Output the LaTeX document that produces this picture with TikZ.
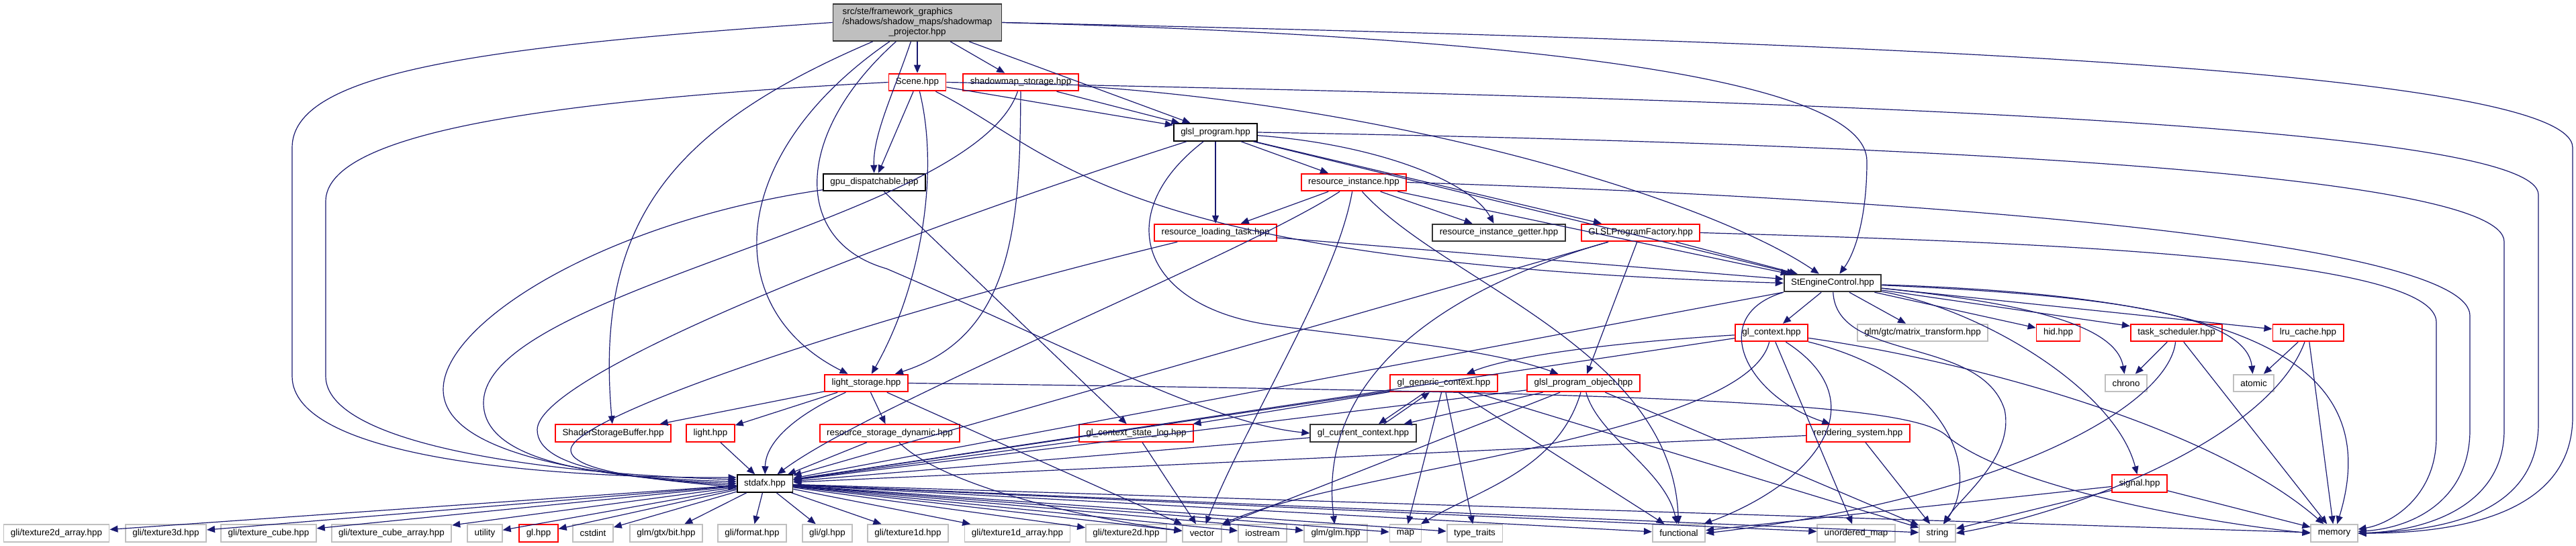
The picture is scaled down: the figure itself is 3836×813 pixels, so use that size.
\documentclass[tikz,border=0pt]{standalone}
\usepackage{fontspec}
\setmainfont{Liberation Sans}
\usepackage{xcolor}
\usepackage{tikz}
\usetikzlibrary{arrows.meta}

\definecolor{edgeblue}{HTML}{191970}
\definecolor{rootgray}{HTML}{BFBFBF}
\definecolor{sysgray}{HTML}{BFBFBF}
\definecolor{truncred}{HTML}{FF0000}

\begin{document}
\begin{tikzpicture}[
        x=0.5pt, y=-0.5pt,
        >={Triangle[length=6pt,width=5pt]},
        every node/.style={font=\fontsize{6.7pt}{7.5pt}\selectfont},
        docbox/.style={
            draw=black,
            fill=white,
            line width=0.9pt,
            minimum height=12.85pt,
            inner xsep=5.25pt,
            inner ysep=0pt
        },
        redbox/.style={docbox, draw=truncred},
        sysbox/.style={docbox, draw=sysgray},
        dep/.style={->, draw=edgeblue, line width=0.6pt}
    ]

    \useasboundingbox (0,0) rectangle (3836,813);

    \node[docbox, fill=rootgray, draw=black!80, minimum width=125.5pt, minimum height=27.5pt] (root) at (1366,33.5) {
        \begin{tabular}{@{}l@{}}
            src/ste/framework\_graphics\\
            /shadows/shadow\_maps/shadowmap\\
            \multicolumn{1}{@{}c@{}}{\_projector.hpp}
        \end{tabular}
    };

    \node[redbox] (scene) at (1366,122.5) {Scene.hpp};
    \node[redbox] (smstorage) at (1520,122.5) {shadowmap\_storage.hpp};
    \node[docbox] (glslprog) at (1810,197) {glsl\_program.hpp};
    \node[docbox] (gpudisp) at (1302,271.5) {gpu\_dispatchable.hpp};
    \node[redbox] (resinst) at (2016,271.5) {resource\_instance.hpp};
    \node[redbox] (loadtask) at (1810,346.5) {resource\_loading\_task.hpp};
    \node[docbox, draw=black!80] (getter) at (2232,346.5) {resource\_instance\_getter.hpp};
    \node[redbox] (factory) at (2443,346.5) {GLSLProgramFactory.hpp};
    \node[docbox, draw=black!80] (engine) at (2729,421.5) {StEngineControl.hpp};
    \node[redbox] (glctx) at (2638,495.5) {gl\_context.hpp};
    \node[sysbox] (matrix) at (2863,495.5) {glm/gtc/matrix\_transform.hpp};
    \node[redbox] (hid) at (3065,495.5) {hid.hpp};
    \node[redbox] (tasksched) at (3241,495.5) {task\_scheduler.hpp};
    \node[redbox] (lru) at (3437,495.5) {lru\_cache.hpp};
    \node[redbox] (lightstor) at (1290,570.5) {light\_storage.hpp};
    \node[redbox] (genctx) at (2150,570.5) {gl\_generic\_context.hpp};
    \node[redbox] (progobj) at (2358,570.5) {glsl\_program\_object.hpp};
    \node[sysbox] (chrono) at (3166,570.5) {chrono};
    \node[sysbox] (atomic) at (3356,570.5) {atomic};
    \node[redbox] (ssbo) at (913,645) {ShaderStorageBuffer.hpp};
    \node[redbox] (light) at (1058,645) {light.hpp};
    \node[redbox] (resdyn) at (1325,645) {resource\_storage\_dynamic.hpp};
    \node[redbox] (statelog) at (1692,645) {gl\_context\_state\_log.hpp};
    \node[docbox, draw=black!80] (curctx) at (2030,645) {gl\_current\_context.hpp};
    \node[redbox] (rendering) at (2767,645) {rendering\_system.hpp};
    \node[docbox] (stdafx) at (1139,720) {stdafx.hpp};
    \node[redbox] (signal) at (3186,720) {signal.hpp};

    \node[sysbox] (tex2darr) at (84,794) {gli/texture2d\_array.hpp};
    \node[sysbox] (tex3d) at (247,794) {gli/texture3d.hpp};
    \node[sysbox] (texcube) at (400,794) {gli/texture\_cube.hpp};
    \node[sysbox] (texcubearr) at (583,794) {gli/texture\_cube\_array.hpp};
    \node[sysbox] (utility) at (722,794) {utility};
    \node[redbox] (glhpp) at (802,794) {gl.hpp};
    \node[sysbox] (cstdint) at (883,794) {cstdint};
    \node[sysbox] (gtxbit) at (992,794) {glm/gtx/bit.hpp};
    \node[sysbox] (format) at (1120,794) {gli/format.hpp};
    \node[sysbox] (gligl) at (1232,794) {gli/gl.hpp};
    \node[sysbox] (tex1d) at (1352,794) {gli/texture1d.hpp};
    \node[sysbox] (tex1darr) at (1515,794) {gli/texture1d\_array.hpp};
    \node[sysbox] (tex2d) at (1677,794) {gli/texture2d.hpp};
    \node[sysbox] (vector) at (1790,794) {vector};
    \node[sysbox] (iostream) at (1880,794) {iostream};
    \node[sysbox] (glmglm) at (1989,794) {glm/glm.hpp};
    \node[sysbox] (map) at (2093,794) {map};
    \node[sysbox] (typetraits) at (2196,794) {type\_traits};
    \node[sysbox] (functional) at (2500,794) {functional};
    \node[sysbox] (unordmap) at (2764,794) {unordered\_map};
    \node[sysbox] (string) at (2885,794) {string};
    \node[sysbox] (memory) at (3476,794) {memory};

    \draw[dep] (root) -- (scene);
    \draw[dep] (root) -- (smstorage);
    \draw[dep] (root) -- (glslprog);
    \draw[dep] (root) .. controls (1330,140) and (1300,200) .. (gpudisp);
    \draw[dep] (root) .. controls (1000,190) and (885,330) .. (ssbo);
    \draw[dep] (root) .. controls (1080,230) and (1070,460) .. (lightstor);
    \draw[dep] (root) .. controls (1180,200) and (1180,360) .. (1320,400) .. controls (1600,520) and (1800,630) .. (curctx.west);
    \draw[dep] (root.west) .. controls (700,70) and (435,110) .. (435,220) -- (435,560) .. controls (435,680) and (800,712) .. (stdafx.168);
    \draw[dep] (root.east) .. controls (2700,60) and (3831,100) .. (3831,220) -- (3831,620) .. controls (3831,770) and (3650,794) .. (memory.east);
    \draw[dep] (root.east) .. controls (2300,55) and (2780,120) .. (2780,240) .. controls (2780,330) and (2760,380) .. (engine);

    \draw[dep] (scene) -- (glslprog);
    \draw[dep] (scene) -- (gpudisp);
    \draw[dep] (scene) .. controls (1400,260) and (1370,430) .. (lightstor);
    \draw[dep] (scene.west) .. controls (800,150) and (485,200) .. (485,300) -- (485,560) .. controls (485,660) and (800,705) .. (stdafx.172);
    \draw[dep] (scene.east) .. controls (2800,150) and (3780,190) .. (3780,290) -- (3780,630) .. controls (3780,760) and (3650,790) .. (memory.east);
    \draw[dep] (scene) .. controls (1580,230) and (1650,390) .. (engine.west);

    \draw[dep] (smstorage) -- (glslprog);
    \draw[dep] (smstorage) .. controls (1519,330) and (1510,500) .. (lightstor);
    \draw[dep] (smstorage) .. controls (1450,330) and (720,430) .. (720,600) .. controls (720,690) and (900,712) .. (stdafx.176);
    \draw[dep] (smstorage) .. controls (2100,160) and (2550,300) .. (engine);

    \draw[dep] (glslprog) -- (loadtask);
    \draw[dep] (glslprog) -- (resinst);
    \draw[dep] (glslprog) .. controls (2050,215) and (2190,270) .. (getter);
    \draw[dep] (glslprog) -- (factory);
    \draw[dep] (glslprog) -- (engine);
    \draw[dep] (glslprog) .. controls (1300,360) and (800,560) .. (800,640) .. controls (800,700) and (950,714) .. (stdafx.180);
    \draw[dep] (glslprog) .. controls (1650,320) and (1700,460) .. (1900,485) .. controls (2050,505) and (2220,520) .. (progobj);
    \draw[dep] (glslprog.east) .. controls (2900,215) and (3729,260) .. (3729,360) -- (3729,640) .. controls (3729,750) and (3620,790) .. (memory.east);

    \draw[dep] (gpudisp) .. controls (900,330) and (660,480) .. (660,580) .. controls (660,680) and (900,710) .. (stdafx.184);
    \draw[dep] (gpudisp) -- (statelog);

    \draw[dep] (resinst) -- (loadtask);
    \draw[dep] (resinst) -- (getter);
    \draw[dep] (resinst) -- (engine);
    \draw[dep] (resinst) .. controls (1850,380) and (1300,600) .. (stdafx);
    \draw[dep] (resinst) .. controls (1990,420) and (1860,620) .. (vector);
    \draw[dep] (resinst) .. controls (2150,420) and (2490,520) .. (functional);
    \draw[dep] (resinst.east) .. controls (3000,300) and (3678,370) .. (3678,470) -- (3678,640) .. controls (3678,740) and (3600,785) .. (memory);

    \draw[dep] (loadtask) .. controls (1300,470) and (850,620) .. (850,670) .. controls (850,705) and (1000,716) .. (stdafx.188);
    \draw[dep] (loadtask) -- (engine);

    \draw[dep] (factory) -- (engine);
    \draw[dep] (factory) -- (stdafx);
    \draw[dep] (factory) -- (progobj);
    \draw[dep] (factory) .. controls (2150,430) and (1960,560) .. (glmglm);
    \draw[dep] (factory.east) .. controls (3000,360) and (3628,380) .. (3628,480) -- (3628,650) .. controls (3628,740) and (3560,780) .. (memory);

    \draw[dep] (engine) -- (glctx);
    \draw[dep] (engine) -- (matrix);
    \draw[dep] (engine) -- (hid);
    \draw[dep] (engine) -- (tasksched);
    \draw[dep] (engine) -- (lru);
    \draw[dep] (engine) .. controls (3000,450) and (3150,480) .. (chrono);
    \draw[dep] (engine) .. controls (3150,440) and (3345,470) .. (atomic);
    \draw[dep] (engine) .. controls (2950,460) and (3150,580) .. (signal);
    \draw[dep] (engine.south west) .. controls (2540,470) and (2600,590) .. (rendering);
    \draw[dep] (engine) .. controls (3300,440) and (3560,520) .. (memory);
    \draw[dep] (engine) .. controls (2735,540) and (2950,500) .. (2985,610) .. controls (3000,680) and (2920,740) .. (string);
    \draw[dep] (engine) -- (stdafx);

    \draw[dep] (glctx) .. controls (2400,510) and (2250,530) .. (genctx);
    \draw[dep] (glctx) -- (stdafx);
    \draw[dep] (glctx) .. controls (2900,560) and (2950,700) .. (string);
    \draw[dep] (glctx) .. controls (2950,540) and (3300,640) .. (memory);
    \draw[dep] (glctx) .. controls (2800,600) and (2700,720) .. (functional);
    \draw[dep] (glctx) .. controls (2600,650) and (2000,700) .. (vector);
    \draw[dep] (glctx) -- (unordmap);

    \draw[dep] (lightstor) -- (ssbo);
    \draw[dep] (lightstor) -- (light);
    \draw[dep] (lightstor) .. controls (1180,620) and (1140,660) .. (stdafx);
    \draw[dep] (lightstor) -- (resdyn);
    \draw[dep] (lightstor) -- (vector);
    \draw[dep] (lightstor.east) .. controls (2500,585) and (2850,600) .. (2900,650) .. controls (3000,730) and (3300,780) .. (memory.west);

    \draw[dep] (light) -- (stdafx);
    \draw[dep] (resdyn) -- (stdafx);
    \draw[dep] (resdyn) .. controls (1400,720) and (1600,770) .. (vector);
    \draw[dep] (statelog) -- (vector);
    \draw[dep] (statelog) -- (stdafx);

    \draw[dep] (curctx.24) -- (genctx.213);
    \draw[dep] (genctx.206) -- (curctx.31);
    \draw[dep] (curctx) -- (stdafx);
    \draw[dep] (genctx) -- (statelog);
    \draw[dep] (genctx) -- (map);
    \draw[dep] (genctx) -- (typetraits);
    \draw[dep] (genctx) -- (functional);
    \draw[dep] (genctx) -- (stdafx);
    \draw[dep] (genctx) -- (string);

    \draw[dep] (progobj) -- (curctx);
    \draw[dep] (progobj) -- (stdafx);
    \draw[dep] (progobj) .. controls (2320,700) and (2200,730) .. (map);
    \draw[dep] (progobj) .. controls (2380,650) and (2480,700) .. (functional);
    \draw[dep] (progobj) -- (string);
    \draw[dep] (progobj) -- (vector);

    \draw[dep] (rendering) -- (stdafx);
    \draw[dep] (rendering) -- (string);
    \draw[dep] (signal) -- (string);
    \draw[dep] (signal) -- (memory);
    \draw[dep] (signal) -- (functional);
    \draw[dep] (tasksched) -- (chrono);
    \draw[dep] (tasksched) -- (memory);
    \draw[dep] (tasksched) .. controls (3230,600) and (3000,740) .. (functional.east);
    \draw[dep] (lru) -- (atomic);
    \draw[dep] (lru) -- (memory);
    \draw[dep] (lru) .. controls (3380,650) and (3100,760) .. (string.east);

    \draw[dep] (stdafx) -- (tex2darr);
    \draw[dep] (stdafx) -- (tex3d);
    \draw[dep] (stdafx) -- (texcube);
    \draw[dep] (stdafx) -- (texcubearr);
    \draw[dep] (stdafx) -- (utility);
    \draw[dep] (stdafx) -- (glhpp);
    \draw[dep] (stdafx) -- (cstdint);
    \draw[dep] (stdafx) -- (gtxbit);
    \draw[dep] (stdafx) -- (format);
    \draw[dep] (stdafx) -- (gligl);
    \draw[dep] (stdafx) -- (tex1d);
    \draw[dep] (stdafx) -- (tex1darr);
    \draw[dep] (stdafx) -- (tex2d);
    \draw[dep] (stdafx) -- (vector);
    \draw[dep] (stdafx) -- (iostream);
    \draw[dep] (stdafx) -- (glmglm);
    \draw[dep] (stdafx) -- (map);
    \draw[dep] (stdafx) -- (typetraits);
    \draw[dep] (stdafx) -- (functional);
    \draw[dep] (stdafx) -- (unordmap);
    \draw[dep] (stdafx) -- (string);
    \draw[dep] (stdafx) -- (memory);

\end{tikzpicture}
\end{document}
